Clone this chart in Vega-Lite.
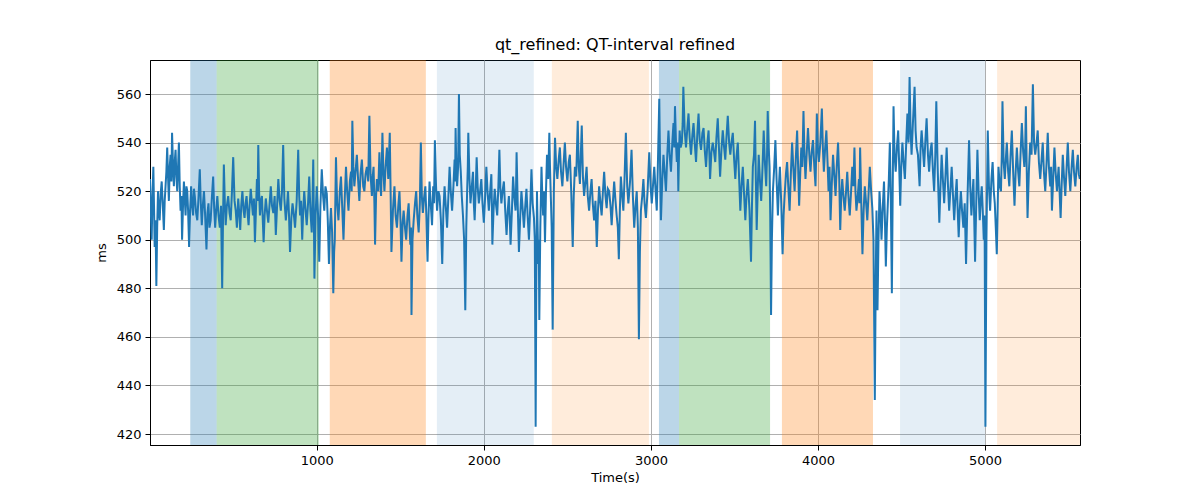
{
"$schema":"https://vega.github.io/schema/vega-lite/v6.json",
"width":930,"height":385,
"autosize":{"type":"none"},
"padding":{"left":150,"top":60,"right":120,"bottom":55},
"background":"white",
"title":{"text":"qt_refined: QT-interval refined","font":"DejaVu Sans","fontSize":16,"fontWeight":"normal","color":"black","offset":7},
"config":{
"view":{"stroke":"black","strokeWidth":1},
"axis":{"labelFont":"DejaVu Sans","titleFont":"DejaVu Sans","labelFontSize":13,"titleFontSize":13,"titleFontWeight":"normal","labelColor":"black","titleColor":"black","tickColor":"black","domainColor":"black","tickSize":5,"labelPadding":4,"gridColor":"#b0b0b0","gridWidth":1}
},
"datasets":{
"bands":[
{"start":243,"end":401,"kind":"A"},
{"start":401,"end":1012,"kind":"B"},
{"start":1078,"end":1653,"kind":"C"},
{"start":1719,"end":2299,"kind":"D"},
{"start":2407,"end":2988,"kind":"E"},
{"start":3048,"end":3168,"kind":"A"},
{"start":3168,"end":3713,"kind":"B"},
{"start":3784,"end":4329,"kind":"C"},
{"start":4491,"end":5000,"kind":"D"},
{"start":5072,"end":5568,"kind":"E"}
],
"qt":[
{"t":2,"v":525},{"t":7,"v":512},{"t":12,"v":500},{"t":17,"v":518},{"t":22,"v":530},{"t":26,"v":514},{"t":30,"v":497},{"t":35,"v":508},{"t":40,"v":481},{"t":45,"v":505},
{"t":50,"v":520},{"t":55,"v":512},{"t":60,"v":508},{"t":66,"v":519},{"t":72,"v":524},{"t":78,"v":515},{"t":85,"v":504},{"t":90,"v":516},{"t":95,"v":522},{"t":100,"v":528},
{"t":105,"v":538},{"t":110,"v":526},{"t":115,"v":516},{"t":120,"v":530},{"t":125,"v":535},{"t":130,"v":524},{"t":134,"v":544},{"t":140,"v":530},{"t":145,"v":522},{"t":150,"v":532},
{"t":155,"v":537},{"t":160,"v":526},{"t":165,"v":520},{"t":170,"v":530},{"t":175,"v":540},{"t":180,"v":522},{"t":185,"v":512},{"t":190,"v":518},{"t":194,"v":500},{"t":200,"v":515},
{"t":205,"v":524},{"t":210,"v":517},{"t":215,"v":510},{"t":220,"v":522},{"t":225,"v":520},{"t":230,"v":512},{"t":236,"v":497},{"t":242,"v":512},{"t":248,"v":522},{"t":254,"v":514},
{"t":260,"v":510},{"t":265,"v":521},{"t":270,"v":518},{"t":278,"v":511},{"t":285,"v":508},{"t":292,"v":517},{"t":300,"v":529},{"t":306,"v":515},{"t":312,"v":506},{"t":318,"v":514},
{"t":325,"v":520},{"t":332,"v":510},{"t":340,"v":496},{"t":346,"v":511},{"t":352,"v":515},{"t":358,"v":505},{"t":365,"v":508},{"t":372,"v":517},{"t":380,"v":526},{"t":386,"v":513},
{"t":392,"v":505},{"t":398,"v":512},{"t":405,"v":518},{"t":412,"v":510},{"t":420,"v":505},{"t":427,"v":514},{"t":434,"v":480},{"t":439,"v":508},{"t":444,"v":531},{"t":450,"v":515},
{"t":455,"v":506},{"t":462,"v":514},{"t":470,"v":518},{"t":478,"v":511},{"t":485,"v":508},{"t":492,"v":519},{"t":500,"v":534},{"t":508,"v":516},{"t":515,"v":512},{"t":522,"v":505},
{"t":530,"v":517},{"t":536,"v":511},{"t":542,"v":504},{"t":548,"v":514},{"t":555,"v":520},{"t":562,"v":512},{"t":568,"v":509},{"t":574,"v":515},{"t":580,"v":518},{"t":586,"v":511},
{"t":592,"v":506},{"t":598,"v":514},{"t":605,"v":521},{"t":612,"v":515},{"t":618,"v":510},{"t":624,"v":517},{"t":630,"v":499},{"t":636,"v":512},{"t":642,"v":525},{"t":646,"v":516},
{"t":650,"v":539},{"t":655,"v":520},{"t":660,"v":510},{"t":666,"v":516},{"t":672,"v":518},{"t":677,"v":508},{"t":682,"v":499},{"t":688,"v":510},{"t":695,"v":517},{"t":702,"v":512},
{"t":710,"v":507},{"t":718,"v":515},{"t":725,"v":522},{"t":732,"v":514},{"t":740,"v":511},{"t":748,"v":518},{"t":755,"v":502},{"t":762,"v":513},{"t":770,"v":525},{"t":778,"v":516},
{"t":785,"v":512},{"t":792,"v":520},{"t":799,"v":539},{"t":806,"v":517},{"t":815,"v":508},{"t":822,"v":514},{"t":828,"v":520},{"t":834,"v":510},{"t":840,"v":495},{"t":848,"v":509},
{"t":855,"v":515},{"t":862,"v":511},{"t":870,"v":505},{"t":880,"v":516},{"t":889,"v":537},{"t":895,"v":518},{"t":900,"v":510},{"t":906,"v":516},{"t":913,"v":500},{"t":919,"v":512},
{"t":925,"v":520},{"t":932,"v":513},{"t":940,"v":506},{"t":948,"v":515},{"t":955,"v":526},{"t":962,"v":512},{"t":970,"v":503},{"t":975,"v":517},{"t":979,"v":533},{"t":983,"v":508},
{"t":986,"v":484},{"t":993,"v":510},{"t":1000,"v":522},{"t":1008,"v":510},{"t":1015,"v":491},{"t":1022,"v":514},{"t":1030,"v":529},{"t":1038,"v":518},{"t":1045,"v":512},{"t":1052,"v":522},
{"t":1060,"v":519},{"t":1066,"v":508},{"t":1073,"v":490},{"t":1079,"v":505},{"t":1085,"v":513},{"t":1092,"v":503},{"t":1099,"v":478},{"t":1104,"v":495},{"t":1108,"v":500},{"t":1112,"v":520},
{"t":1115,"v":534},{"t":1122,"v":515},{"t":1130,"v":508},{"t":1138,"v":520},{"t":1145,"v":526},{"t":1152,"v":514},{"t":1160,"v":500},{"t":1168,"v":518},{"t":1175,"v":530},{"t":1182,"v":520},
{"t":1190,"v":512},{"t":1198,"v":524},{"t":1205,"v":528},{"t":1209,"v":520},{"t":1213,"v":549},{"t":1219,"v":530},{"t":1225,"v":522},{"t":1232,"v":528},{"t":1240,"v":535},{"t":1248,"v":524},
{"t":1255,"v":516},{"t":1262,"v":527},{"t":1270,"v":533},{"t":1278,"v":522},{"t":1285,"v":520},{"t":1292,"v":527},{"t":1300,"v":530},{"t":1308,"v":524},{"t":1315,"v":551},{"t":1322,"v":527},
{"t":1330,"v":518},{"t":1335,"v":526},{"t":1340,"v":530},{"t":1345,"v":515},{"t":1349,"v":498},{"t":1355,"v":518},{"t":1360,"v":525},{"t":1368,"v":520},{"t":1375,"v":536},{"t":1380,"v":525},
{"t":1385,"v":518},{"t":1389,"v":530},{"t":1393,"v":544},{"t":1399,"v":528},{"t":1405,"v":520},{"t":1412,"v":530},{"t":1420,"v":538},{"t":1428,"v":525},{"t":1437,"v":544},{"t":1442,"v":520},
{"t":1447,"v":495},{"t":1456,"v":512},{"t":1465,"v":522},{"t":1472,"v":510},{"t":1480,"v":505},{"t":1488,"v":514},{"t":1495,"v":520},{"t":1501,"v":508},{"t":1507,"v":491},{"t":1514,"v":507},
{"t":1520,"v":512},{"t":1528,"v":505},{"t":1535,"v":500},{"t":1543,"v":510},{"t":1550,"v":515},{"t":1555,"v":506},{"t":1560,"v":498},{"t":1564,"v":505},{"t":1567,"v":469},{"t":1573,"v":500},
{"t":1580,"v":508},{"t":1588,"v":515},{"t":1595,"v":520},{"t":1602,"v":510},{"t":1610,"v":503},{"t":1617,"v":515},{"t":1623,"v":540},{"t":1629,"v":518},{"t":1635,"v":511},{"t":1642,"v":517},
{"t":1650,"v":522},{"t":1656,"v":510},{"t":1663,"v":491},{"t":1669,"v":510},{"t":1675,"v":524},{"t":1682,"v":515},{"t":1690,"v":506},{"t":1694,"v":515},{"t":1697,"v":522},{"t":1702,"v":515},
{"t":1707,"v":541},{"t":1714,"v":522},{"t":1720,"v":512},{"t":1728,"v":520},{"t":1735,"v":518},{"t":1743,"v":508},{"t":1751,"v":490},{"t":1758,"v":512},{"t":1765,"v":522},{"t":1772,"v":514},
{"t":1780,"v":505},{"t":1788,"v":518},{"t":1795,"v":530},{"t":1802,"v":520},{"t":1810,"v":512},{"t":1818,"v":522},{"t":1825,"v":533},{"t":1828,"v":524},{"t":1831,"v":546},{"t":1836,"v":528},
{"t":1840,"v":522},{"t":1846,"v":530},{"t":1851,"v":560},{"t":1856,"v":535},{"t":1862,"v":528},{"t":1868,"v":518},{"t":1875,"v":510},{"t":1882,"v":500},{"t":1889,"v":471},{"t":1895,"v":505},
{"t":1900,"v":520},{"t":1904,"v":530},{"t":1907,"v":544},{"t":1914,"v":525},{"t":1920,"v":515},{"t":1928,"v":522},{"t":1935,"v":528},{"t":1940,"v":515},{"t":1945,"v":508},{"t":1951,"v":520},
{"t":1957,"v":534},{"t":1963,"v":522},{"t":1970,"v":515},{"t":1978,"v":520},{"t":1985,"v":525},{"t":1992,"v":515},{"t":2000,"v":507},{"t":2008,"v":518},{"t":2015,"v":530},{"t":2022,"v":520},
{"t":2030,"v":512},{"t":2038,"v":520},{"t":2045,"v":527},{"t":2048,"v":515},{"t":2051,"v":498},{"t":2058,"v":512},{"t":2065,"v":521},{"t":2072,"v":515},{"t":2080,"v":510},{"t":2087,"v":522},
{"t":2093,"v":537},{"t":2099,"v":521},{"t":2105,"v":515},{"t":2112,"v":520},{"t":2120,"v":524},{"t":2128,"v":512},{"t":2136,"v":502},{"t":2143,"v":512},{"t":2150,"v":518},{"t":2155,"v":509},
{"t":2160,"v":498},{"t":2168,"v":512},{"t":2175,"v":526},{"t":2182,"v":518},{"t":2190,"v":512},{"t":2193,"v":522},{"t":2196,"v":536},{"t":2203,"v":514},{"t":2210,"v":495},{"t":2218,"v":510},
{"t":2225,"v":520},{"t":2232,"v":513},{"t":2240,"v":505},{"t":2248,"v":514},{"t":2255,"v":521},{"t":2262,"v":510},{"t":2270,"v":500},{"t":2278,"v":514},{"t":2285,"v":529},{"t":2292,"v":515},
{"t":2300,"v":509},{"t":2305,"v":500},{"t":2310,"v":423},{"t":2314,"v":480},{"t":2318,"v":520},{"t":2322,"v":505},{"t":2326,"v":490},{"t":2329,"v":500},{"t":2332,"v":467},{"t":2338,"v":505},
{"t":2345,"v":530},{"t":2350,"v":518},{"t":2355,"v":510},{"t":2360,"v":520},{"t":2366,"v":499},{"t":2372,"v":520},{"t":2378,"v":535},{"t":2385,"v":525},{"t":2392,"v":544},{"t":2396,"v":530},
{"t":2400,"v":520},{"t":2406,"v":505},{"t":2412,"v":463},{"t":2419,"v":520},{"t":2426,"v":542},{"t":2433,"v":530},{"t":2440,"v":525},{"t":2448,"v":533},{"t":2455,"v":538},{"t":2462,"v":528},
{"t":2470,"v":522},{"t":2478,"v":532},{"t":2485,"v":540},{"t":2492,"v":530},{"t":2500,"v":524},{"t":2508,"v":532},{"t":2515,"v":535},{"t":2523,"v":520},{"t":2532,"v":497},{"t":2538,"v":518},
{"t":2545,"v":530},{"t":2553,"v":526},{"t":2562,"v":549},{"t":2568,"v":530},{"t":2575,"v":523},{"t":2580,"v":534},{"t":2586,"v":547},{"t":2593,"v":526},{"t":2600,"v":518},{"t":2608,"v":524},
{"t":2615,"v":530},{"t":2622,"v":518},{"t":2630,"v":512},{"t":2638,"v":520},{"t":2645,"v":525},{"t":2652,"v":515},{"t":2660,"v":508},{"t":2668,"v":516},{"t":2676,"v":497},{"t":2683,"v":512},
{"t":2690,"v":522},{"t":2698,"v":515},{"t":2705,"v":510},{"t":2712,"v":519},{"t":2720,"v":528},{"t":2728,"v":518},{"t":2735,"v":513},{"t":2742,"v":521},{"t":2750,"v":520},{"t":2758,"v":514},
{"t":2765,"v":506},{"t":2772,"v":515},{"t":2780,"v":524},{"t":2788,"v":516},{"t":2795,"v":510},{"t":2802,"v":505},{"t":2808,"v":492},{"t":2814,"v":512},{"t":2820,"v":526},{"t":2828,"v":518},
{"t":2835,"v":512},{"t":2842,"v":525},{"t":2850,"v":544},{"t":2858,"v":522},{"t":2865,"v":515},{"t":2875,"v":524},{"t":2884,"v":537},{"t":2892,"v":518},{"t":2900,"v":505},{"t":2908,"v":514},
{"t":2915,"v":520},{"t":2922,"v":505},{"t":2928,"v":459},{"t":2934,"v":495},{"t":2940,"v":512},{"t":2948,"v":518},{"t":2955,"v":525},{"t":2962,"v":515},{"t":2970,"v":509},{"t":2980,"v":520},
{"t":2990,"v":536},{"t":2998,"v":522},{"t":3005,"v":515},{"t":3012,"v":522},{"t":3020,"v":530},{"t":3028,"v":520},{"t":3035,"v":512},{"t":3042,"v":532},{"t":3050,"v":558},{"t":3055,"v":530},
{"t":3060,"v":508},{"t":3068,"v":525},{"t":3075,"v":535},{"t":3082,"v":528},{"t":3090,"v":520},{"t":3098,"v":535},{"t":3105,"v":545},{"t":3112,"v":535},{"t":3120,"v":528},{"t":3128,"v":540},
{"t":3135,"v":548},{"t":3140,"v":538},{"t":3144,"v":555},{"t":3150,"v":540},{"t":3155,"v":532},{"t":3160,"v":540},{"t":3164,"v":520},{"t":3168,"v":535},{"t":3172,"v":545},{"t":3178,"v":538},
{"t":3185,"v":540},{"t":3190,"v":548},{"t":3194,"v":563},{"t":3202,"v":545},{"t":3210,"v":538},{"t":3218,"v":546},{"t":3225,"v":552},{"t":3232,"v":542},{"t":3240,"v":535},{"t":3248,"v":543},
{"t":3255,"v":548},{"t":3262,"v":540},{"t":3270,"v":532},{"t":3278,"v":544},{"t":3285,"v":552},{"t":3292,"v":541},{"t":3300,"v":537},{"t":3308,"v":544},{"t":3315,"v":546},{"t":3322,"v":537},
{"t":3330,"v":530},{"t":3338,"v":540},{"t":3345,"v":545},{"t":3350,"v":535},{"t":3354,"v":525},{"t":3362,"v":536},{"t":3370,"v":540},{"t":3378,"v":536},{"t":3385,"v":532},{"t":3392,"v":542},
{"t":3400,"v":550},{"t":3407,"v":538},{"t":3414,"v":526},{"t":3422,"v":537},{"t":3430,"v":545},{"t":3438,"v":538},{"t":3445,"v":533},{"t":3452,"v":542},{"t":3460,"v":551},{"t":3468,"v":540},
{"t":3475,"v":535},{"t":3482,"v":540},{"t":3490,"v":544},{"t":3498,"v":533},{"t":3505,"v":525},{"t":3512,"v":534},{"t":3520,"v":540},{"t":3528,"v":525},{"t":3535,"v":512},{"t":3542,"v":522},
{"t":3550,"v":530},{"t":3558,"v":518},{"t":3565,"v":508},{"t":3572,"v":518},{"t":3580,"v":525},{"t":3590,"v":512},{"t":3599,"v":491},{"t":3605,"v":515},{"t":3610,"v":530},{"t":3617,"v":535},
{"t":3623,"v":549},{"t":3628,"v":525},{"t":3633,"v":504},{"t":3639,"v":520},{"t":3645,"v":535},{"t":3652,"v":525},{"t":3660,"v":516},{"t":3668,"v":530},{"t":3675,"v":545},{"t":3682,"v":532},
{"t":3690,"v":522},{"t":3695,"v":535},{"t":3699,"v":553},{"t":3705,"v":538},{"t":3710,"v":530},{"t":3714,"v":510},{"t":3719,"v":469},{"t":3724,"v":500},{"t":3730,"v":520},{"t":3738,"v":530},
{"t":3745,"v":541},{"t":3752,"v":525},{"t":3760,"v":510},{"t":3766,"v":522},{"t":3772,"v":530},{"t":3780,"v":515},{"t":3788,"v":494},{"t":3794,"v":510},{"t":3800,"v":518},{"t":3808,"v":527},
{"t":3815,"v":532},{"t":3822,"v":522},{"t":3830,"v":512},{"t":3838,"v":528},{"t":3845,"v":540},{"t":3852,"v":530},{"t":3860,"v":520},{"t":3868,"v":535},{"t":3875,"v":545},{"t":3881,"v":530},
{"t":3887,"v":514},{"t":3894,"v":528},{"t":3900,"v":538},{"t":3906,"v":530},{"t":3913,"v":553},{"t":3919,"v":535},{"t":3925,"v":525},{"t":3932,"v":535},{"t":3940,"v":546},{"t":3948,"v":535},
{"t":3955,"v":528},{"t":3962,"v":536},{"t":3970,"v":541},{"t":3978,"v":530},{"t":3985,"v":522},{"t":3989,"v":535},{"t":3993,"v":552},{"t":3999,"v":538},{"t":4005,"v":532},{"t":4014,"v":540},
{"t":4023,"v":554},{"t":4029,"v":538},{"t":4035,"v":528},{"t":4042,"v":537},{"t":4050,"v":545},{"t":4057,"v":532},{"t":4063,"v":520},{"t":4069,"v":530},{"t":4075,"v":508},{"t":4082,"v":522},
{"t":4090,"v":535},{"t":4098,"v":526},{"t":4105,"v":518},{"t":4112,"v":530},{"t":4120,"v":540},{"t":4127,"v":525},{"t":4133,"v":504},{"t":4139,"v":518},{"t":4145,"v":525},{"t":4152,"v":518},
{"t":4160,"v":512},{"t":4168,"v":520},{"t":4175,"v":528},{"t":4182,"v":518},{"t":4190,"v":510},{"t":4198,"v":520},{"t":4205,"v":530},{"t":4212,"v":522},{"t":4218,"v":538},{"t":4224,"v":520},
{"t":4230,"v":512},{"t":4238,"v":518},{"t":4245,"v":525},{"t":4248,"v":515},{"t":4252,"v":538},{"t":4259,"v":515},{"t":4266,"v":494},{"t":4273,"v":512},{"t":4280,"v":522},{"t":4288,"v":515},
{"t":4295,"v":508},{"t":4302,"v":518},{"t":4310,"v":530},{"t":4318,"v":520},{"t":4325,"v":513},{"t":4332,"v":500},{"t":4340,"v":434},{"t":4345,"v":480},{"t":4350,"v":512},{"t":4353,"v":495},
{"t":4356,"v":471},{"t":4362,"v":500},{"t":4368,"v":520},{"t":4374,"v":512},{"t":4380,"v":500},{"t":4388,"v":514},{"t":4395,"v":524},{"t":4400,"v":510},{"t":4406,"v":489},{"t":4412,"v":505},
{"t":4418,"v":515},{"t":4424,"v":525},{"t":4430,"v":540},{"t":4436,"v":515},{"t":4442,"v":478},{"t":4447,"v":520},{"t":4452,"v":555},{"t":4458,"v":535},{"t":4465,"v":528},{"t":4472,"v":538},
{"t":4480,"v":545},{"t":4486,"v":530},{"t":4492,"v":514},{"t":4498,"v":530},{"t":4505,"v":540},{"t":4512,"v":532},{"t":4520,"v":525},{"t":4528,"v":540},{"t":4535,"v":552},{"t":4542,"v":540},
{"t":4548,"v":567},{"t":4554,"v":545},{"t":4560,"v":535},{"t":4568,"v":548},{"t":4578,"v":563},{"t":4584,"v":545},{"t":4590,"v":538},{"t":4598,"v":535},{"t":4608,"v":522},{"t":4614,"v":538},
{"t":4620,"v":545},{"t":4628,"v":537},{"t":4635,"v":530},{"t":4642,"v":540},{"t":4650,"v":550},{"t":4658,"v":535},{"t":4665,"v":528},{"t":4672,"v":536},{"t":4680,"v":540},{"t":4688,"v":528},
{"t":4695,"v":520},{"t":4702,"v":535},{"t":4708,"v":557},{"t":4716,"v":530},{"t":4726,"v":507},{"t":4733,"v":522},{"t":4740,"v":535},{"t":4748,"v":524},{"t":4755,"v":515},{"t":4762,"v":525},
{"t":4770,"v":538},{"t":4778,"v":522},{"t":4785,"v":512},{"t":4792,"v":520},{"t":4800,"v":530},{"t":4808,"v":518},{"t":4815,"v":508},{"t":4822,"v":517},{"t":4830,"v":525},{"t":4836,"v":512},
{"t":4842,"v":501},{"t":4848,"v":512},{"t":4855,"v":520},{"t":4862,"v":512},{"t":4870,"v":505},{"t":4878,"v":515},{"t":4886,"v":490},{"t":4895,"v":518},{"t":4904,"v":541},{"t":4911,"v":522},
{"t":4918,"v":510},{"t":4924,"v":518},{"t":4930,"v":525},{"t":4935,"v":508},{"t":4940,"v":491},{"t":4947,"v":515},{"t":4954,"v":537},{"t":4961,"v":520},{"t":4968,"v":508},{"t":4974,"v":516},
{"t":4980,"v":522},{"t":4986,"v":512},{"t":4992,"v":500},{"t":4997,"v":510},{"t":5002,"v":423},{"t":5008,"v":500},{"t":5016,"v":545},{"t":5023,"v":522},{"t":5030,"v":512},{"t":5038,"v":525},
{"t":5045,"v":532},{"t":5052,"v":520},{"t":5058,"v":515},{"t":5064,"v":505},{"t":5070,"v":494},{"t":5075,"v":512},{"t":5080,"v":530},{"t":5088,"v":522},{"t":5095,"v":520},{"t":5100,"v":535},
{"t":5104,"v":557},{"t":5111,"v":532},{"t":5118,"v":525},{"t":5124,"v":533},{"t":5130,"v":540},{"t":5138,"v":528},{"t":5145,"v":522},{"t":5152,"v":534},{"t":5160,"v":545},{"t":5168,"v":528},
{"t":5176,"v":514},{"t":5183,"v":528},{"t":5190,"v":538},{"t":5198,"v":528},{"t":5205,"v":522},{"t":5212,"v":535},{"t":5220,"v":548},{"t":5228,"v":536},{"t":5235,"v":530},{"t":5240,"v":538},
{"t":5244,"v":555},{"t":5249,"v":530},{"t":5254,"v":509},{"t":5262,"v":528},{"t":5270,"v":540},{"t":5278,"v":535},{"t":5286,"v":564},{"t":5293,"v":540},{"t":5300,"v":535},{"t":5308,"v":540},
{"t":5315,"v":545},{"t":5322,"v":532},{"t":5330,"v":525},{"t":5338,"v":533},{"t":5345,"v":540},{"t":5352,"v":528},{"t":5360,"v":520},{"t":5368,"v":532},{"t":5375,"v":544},{"t":5382,"v":530},
{"t":5390,"v":522},{"t":5395,"v":530},{"t":5400,"v":512},{"t":5408,"v":526},{"t":5415,"v":538},{"t":5422,"v":528},{"t":5430,"v":520},{"t":5440,"v":530},{"t":5452,"v":509},{"t":5458,"v":522},
{"t":5465,"v":535},{"t":5472,"v":526},{"t":5480,"v":518},{"t":5488,"v":530},{"t":5495,"v":540},{"t":5502,"v":528},{"t":5510,"v":520},{"t":5518,"v":530},{"t":5525,"v":537},{"t":5532,"v":528},
{"t":5540,"v":522},{"t":5548,"v":530},{"t":5555,"v":535},{"t":5561,"v":527},{"t":5567,"v":525}
]
},
"layer":[
{"data":{"name":"bands"},
 "mark":{"type":"rect"},
 "encoding":{
  "x":{"field":"start","type":"quantitative","scale":{"domain":[2,5568],"nice":false,"zero":false},
       "axis":{"title":"Time(s)","values":[1000,2000,3000,4000,5000],"format":"d","grid":true,"titlePadding":4}},
  "x2":{"field":"end"},
  "color":{"field":"kind","type":"nominal","legend":null,
    "scale":{"domain":["A","B","C","D","E"],"range":["rgba(31,119,180,0.3)","rgba(44,160,44,0.3)","rgba(255,127,14,0.3)","rgba(31,119,180,0.12)","rgba(255,127,14,0.15)"]}}
 }},
{"data":{"name":"qt"},
 "mark":{"type":"line","color":"#1f77b4","strokeWidth":2,"clip":true},
 "encoding":{
  "x":{"field":"t","type":"quantitative"},
  "y":{"field":"v","type":"quantitative","scale":{"domain":[415.5,574],"nice":false,"zero":false},
       "axis":{"title":"ms","values":[420,440,460,480,500,520,540,560],"grid":true,"titlePadding":8}}
 }}
]
}
